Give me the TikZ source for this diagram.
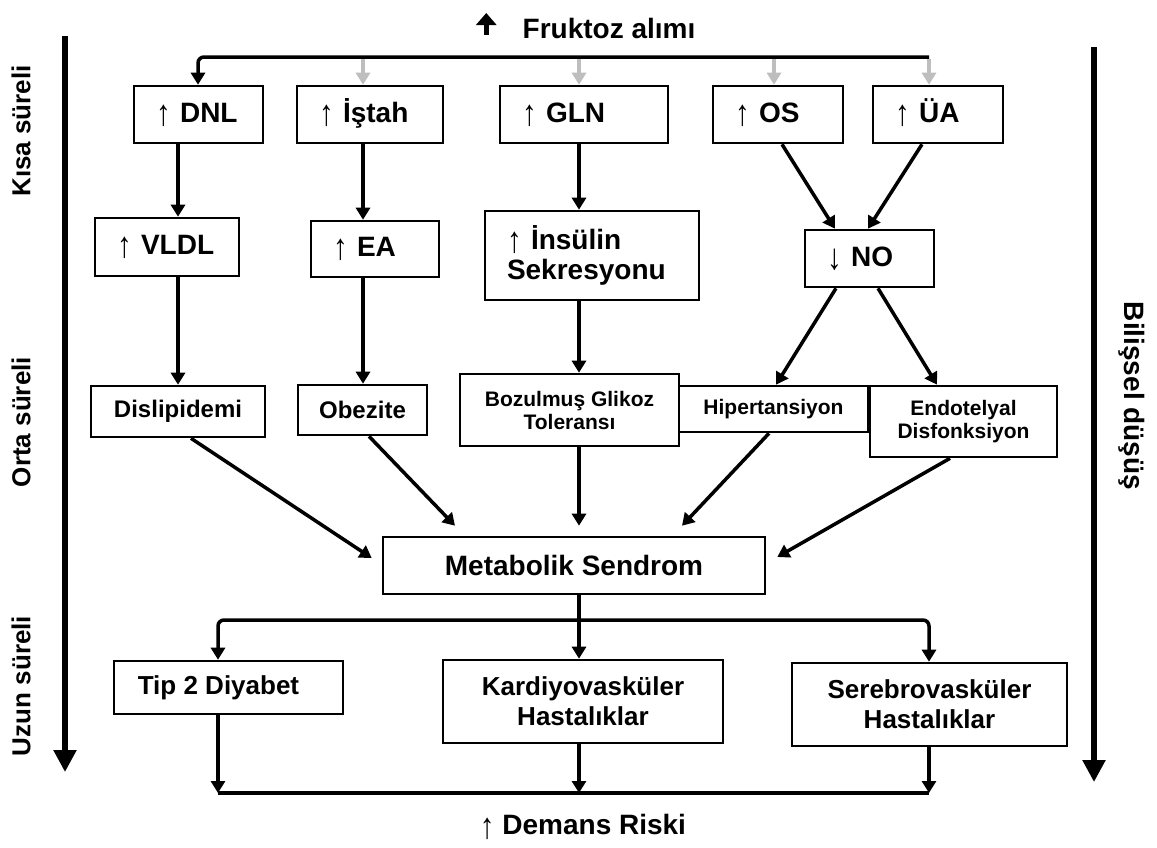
\documentclass[tikz,border=0pt]{standalone}
\usepackage{fontspec}
\setmainfont{Liberation Sans}
\usetikzlibrary{positioning, arrows.meta, calc}

\definecolor{acikgri}{RGB}{190,190,190}
\newcommand{\artis}{{\mdseries\raisebox{-0.12em}{\scalebox{1.05}[1.3]{↑}}}}
\newcommand{\azalis}{{\mdseries\raisebox{-0.12em}{\scalebox{1.05}[1.3]{↓}}}}

\begin{document}
\begin{tikzpicture}[x=0.5pt, y=-0.5pt, >=Stealth,
    kutu/.style={draw, line width=1.3pt, inner xsep=11pt, inner ysep=0pt, align=left, font=\bfseries\fontsize{14}{15}\selectfont},
    tek/.style={text height=10.5pt, text depth=3pt},
    kutuorta/.style={draw, line width=1.3pt, inner sep=0pt, align=center},
    ok/.style={line width=1.75pt, -{Triangle[width=7pt,length=6pt]}},
    griok/.style={line width=1.75pt, acikgri, -{Triangle[width=7pt,length=6pt]}},
    hat/.style={line width=1.75pt},
    yanok/.style={line width=2.6pt, -{Triangle[width=11pt,length=11pt]}},
    yanyazi/.style={inner sep=0pt, font=\bfseries\fontsize{13}{15}\selectfont}]
    \useasboundingbox (0,0) rectangle (1157,847);

    % baslik
    \node[inner sep=0pt, font=\bfseries\fontsize{14}{16}\selectfont] (fruktoz) at (609,28) {Fruktoz alımı};
    \draw[line width=2.5pt, -{Triangle[width=10pt,length=6pt]}] ($(fruktoz.west)+(-36,7)$) -- ($(fruktoz.west)+(-36,-15)$);

    % kisa sureli kutular
    \node[kutu, tek, text width=42.5pt, minimum height=28.5pt] (dnl) at (198.5,114.5) {\artis{} DNL};
    \node[kutu, tek, text width=51pt, minimum height=28.5pt] (istah) at (370,114.5) {\artis{} İştah};
    \node[kutu, tek, text width=62pt, minimum height=28.5pt] (gln) at (584,114.5) {\artis{} GLN};
    \node[kutu, tek, text width=43pt, minimum height=28.5pt] (os) at (778,114.5) {\artis{} OS};
    \node[kutu, tek, text width=43pt, minimum height=28.5pt] (ua) at (938,114.5) {\artis{} ÜA};

    \node[kutu, tek, text width=50pt, minimum height=29pt] (vldl) at (167,247) {\artis{} VLDL};
    \node[kutu, tek, text width=42pt, minimum height=28pt] (ea) at (375,249) {\artis{} EA};
    \node[kutu, text width=85pt, minimum height=44.5pt] (insulin) at (592,255.5) {\artis{} İnsülin\\Sekresyonu};
    \node[kutu, tek, text width=42.5pt, minimum height=28.5pt] (no) at (869.5,258.5) {\azalis{} NO};

    % orta sureli kutular
    \node[kutuorta, font=\bfseries\fontsize{12}{14}\selectfont, minimum width=87pt, minimum height=25.5pt] (dislip) at (178,411.5) {Dislipidemi};
    \node[kutuorta, font=\bfseries\fontsize{12}{14}\selectfont, minimum width=64.5pt, minimum height=25pt] (obez) at (362.5,410) {Obezite};
    \node[kutuorta, font=\bfseries\fontsize{10.5}{11.5}\selectfont, minimum width=109.5pt, minimum height=36pt] (bozul) at (569.5,410) {Bozulmuş Glikoz\\Toleransı};
    \node[kutuorta, font=\bfseries\fontsize{10.5}{11.5}\selectfont, minimum width=94.5pt, minimum height=23pt] (hiper) at (773.5,409) {Hipertansiyon};
    \node[kutuorta, font=\bfseries\fontsize{10.5}{11.5}\selectfont, minimum width=93.5pt, minimum height=35.5pt] (endo) at (963.5,421.5) {Endotelyal\\Disfonksiyon};
    \node[kutuorta, font=\bfseries\fontsize{14}{16}\selectfont, minimum width=191pt, minimum height=28.5pt] (metab) at (574,565.5) {Metabolik Sendrom};

    % uzun sureli kutular
    \node[kutuorta, font=\bfseries\fontsize{13}{15}\selectfont, minimum width=114.5pt, minimum height=26.5pt] (tip2) at (228.5,687.5) {Tip 2 Diyabet\hspace*{10pt}};
    \node[kutuorta, font=\bfseries\fontsize{13}{15}\selectfont, minimum width=140pt, minimum height=41.5pt] (kardiyo) at (583,701.5) {Kardiyovasküler\\Hastalıklar};
    \node[kutuorta, font=\bfseries\fontsize{13}{15}\selectfont, minimum width=137.5pt, minimum height=41.5pt] (serebro) at (929.5,704.5) {Serebrovasküler\\Hastalıklar};
    \node[inner sep=0pt, font=\bfseries\fontsize{14}{16}\selectfont] (demans) at (583,827) {\artis{} Demans Riski};

    % yan yazilar ve oklar
    \node[yanyazi, rotate=90] (kisa) at (21,131) {Kısa süreli};
    \node[yanyazi, rotate=90] (orta) at (21,422) {Orta süreli};
    \node[yanyazi, rotate=90] (uzun) at (21,686) {Uzun süreli};
    \node[yanyazi, rotate=-90, font=\bfseries\fontsize{14}{16}\selectfont] (bilissel) at (1132,396) {Bilişsel düşüş};
    \coordinate (solust) at (65,36);
    \coordinate (solalt) at (65,772);
    \coordinate (sagust) at (1094,47);
    \coordinate (sagalt) at (1094,782);
    \draw[yanok] (solust) -- (solalt);
    \draw[yanok] (sagust) -- (sagalt);

    % fruktoz dallari
    \coordinate (d1) at (198,57);
    \coordinate (d2) at (363,57);
    \coordinate (d3) at (579,57);
    \coordinate (d4) at (774,57);
    \coordinate (d5) at (929,57);
    \draw[griok] ([yshift=-1pt]d2) -- (d2 |- istah.north);
    \draw[griok] ([yshift=-1pt]d3) -- (d3 |- gln.north);
    \draw[griok] ([yshift=-1pt]d4) -- (d4 |- os.north);
    \draw[griok] ([yshift=-1pt]d5) -- (d5 |- ua.north);
    \draw[ok, rounded corners=3pt] (d5) -- (d1) -- (d1 |- dnl.north);

    % dikey oklar
    \draw[ok] (dnl.south -| 178,0) -- (vldl.north -| 178,0);
    \draw[ok] (istah.south -| 363,0) -- (ea.north -| 363,0);
    \draw[ok] (gln.south -| 579,0) -- (insulin.north -| 579,0);
    \draw[ok] (os.south -| 782,0) -- (no.north -| 835,0);
    \draw[ok] (ua.south -| 922,0) -- (no.north -| 868,0);
    \draw[ok] (vldl.south -| 178,0) -- (dislip.north -| 178,0);
    \draw[ok] (ea.south -| 363,0) -- (obez.north -| 363,0);
    \draw[ok] (insulin.south -| 579,0) -- (bozul.north -| 579,0);
    \draw[ok] (no.south -| 836,0) -- (hiper.north -| 776,0);
    \draw[ok] (no.south -| 878,0) -- (endo.north -| 937,0);

    % metabolik sendroma
    \draw[ok] (dislip.south -| 191,0) -- ($(metab.west)+(-10,-7.5)$);
    \draw[ok] (obez.south -| 369,0) -- ($(metab.north)+(-119,-10)$);
    \draw[ok] (bozul.south -| 579,0) -- ($(metab.north)+(5,-10)$);
    \draw[ok] (hiper.south -| 769,0) -- ($(metab.north)+(108,-10)$);
    \draw[ok] (endo.south -| 950,0) -- ($(metab.east)+(11,-8.5)$);

    % uzun sureli dallar
    \coordinate (b1) at (218,620);
    \coordinate (b2) at (579,620);
    \coordinate (b3) at (929,620);
    \draw[hat] (metab.south -| b2) -- (b2);
    \draw[ok, rounded corners=3pt] (b2) -- (b1) -- (b1 |- tip2.north);
    \draw[ok, rounded corners=3pt] (b2) -- (b3) -- (b3 |- serebro.north);
    \draw[ok] (b2) -- (b2 |- kardiyo.north);

    % demans hatti
    \coordinate (a1) at (218,793);
    \coordinate (a2) at (579,793);
    \coordinate (a3) at (929,793);
    \draw[ok] (tip2.south -| a1) -- (a1);
    \draw[ok] (kardiyo.south -| a2) -- (a2);
    \draw[ok] (serebro.south -| a3) -- (a3);
    \draw[hat] (a1) -- (a3);
\end{tikzpicture}
\end{document}
